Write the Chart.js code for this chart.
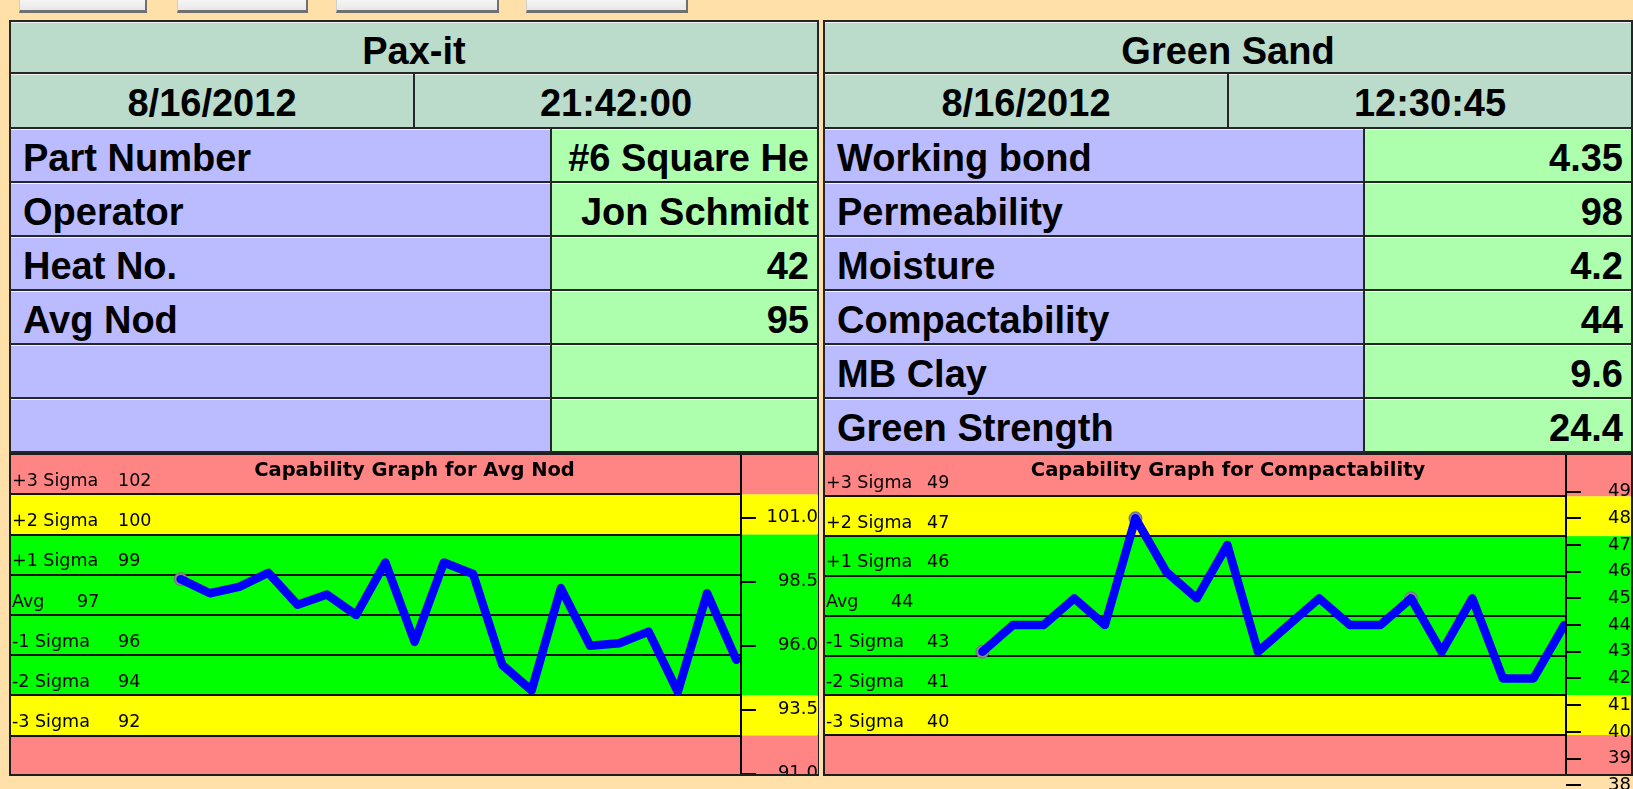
<!DOCTYPE html>
<html>
<head>
<meta charset="utf-8">
<title>Pax-it / Green Sand</title>
<script src="https://cdn.jsdelivr.net/npm/chart.js@4.4.1/dist/chart.umd.min.js"></script>
<style>
  html, body { margin: 0; padding: 0; }
  body { width: 1633px; height: 789px; overflow: hidden; position: relative; background: #ffe0a8; font-family: "Liberation Sans", Arial, sans-serif; }
  .btn { position: absolute; top: -8px; height: 21px; box-sizing: border-box; background: linear-gradient(#fdfdfd, #e8e8e8); border: 1px solid #cfcfcf; border-right: 2px solid #707070; border-bottom: 3px solid #707070; }
  .panel { position: absolute; top: 20px; height: 436px; width: 810px; background: #262626; }
  .cell { position: absolute; box-sizing: border-box; font-weight: bold; font-size: 38px; line-height: 56px; color: #000; white-space: nowrap; overflow: hidden; border-top: 1px solid #f2f2f2; }
  .head { background: #bbdccb; text-align: center; }
  .lbl { background: #bbbbff; padding-left: 12px; }
  .val { background: #adffad; text-align: right; padding-right: 8px; }
  .box { position: absolute; top: 453px; width: 810px; height: 323px; box-sizing: border-box; border: 2px solid #1e1e1e; }
  canvas { position: absolute; }
</style>
</head>
<body>
<div class="btn" style="left:19px;width:128px"></div>
<div class="btn" style="left:177px;width:131px"></div>
<div class="btn" style="left:336px;width:163px"></div>
<div class="btn" style="left:526px;width:162px"></div>

<div class="panel" id="paxPanel" style="left:9px"></div>
<div class="panel" id="sandPanel" style="left:823px"></div>

<div class="box" style="left:9px"></div>
<div class="box" style="left:823px"></div>
<canvas id="chartNod" width="807" height="319" style="left:11px;top:455px"></canvas>
<canvas id="chartComp" width="806" height="334" style="left:825px;top:455px"></canvas>

<script>
// ---- datos de las tablas ----
const paxTitle = "Pax-it";
const paxDate = "8/16/2012";
const paxTime = "21:42:00";
const paxFields = ["Part Number", "Operator", "Heat No.", "Avg Nod", "", ""];
const paxValues = ["#6 Square He", "Jon Schmidt", "42", "95", "", ""];

const sandTitle = "Green Sand";
const sandDate = "8/16/2012";
const sandTime = "12:30:45";
const sandFields = ["Working bond", "Permeability", "Moisture", "Compactability", "MB Clay", "Green Strength"];
const sandValues = ["4.35", "98", "4.2", "44", "9.6", "24.4"];

// ---- graficos de capacidad ----
const sigmaNames = ["+3 Sigma", "+2 Sigma", "+1 Sigma", "Avg", "-1 Sigma", "-2 Sigma", "-3 Sigma"];

const nodTitle = "Capability Graph for Avg Nod";
const nodLimits = [101.91, 100.34, 98.77, 97.2, 95.63, 94.06, 92.49];
const nodLimitLabels = [102, 100, 99, 97, 96, 94, 92];
const nodValues = [98.6, 98.05, 98.3, 98.85, 97.6, 98.0, 97.2, 99.25, 96.15, 99.25,
                   98.8, 95.25, 94.25, 98.25, 96.0, 96.1, 96.55, 94.2, 98.05, 95.45];
const nodFlagged = [0];
const nodTicks = [91, 93.5, 96, 98.5, 101];

const compTitle = "Capability Graph for Compactability";
const compLimits = [48.82, 47.33, 45.84, 44.35, 42.86, 41.37, 39.88];
const compLimitLabels = [49, 47, 46, 44, 43, 41, 40];
const compValues = [43, 44, 44, 45, 44, 48, 46, 45, 47, 43,
                    44, 45, 44, 44, 45, 43, 45, 42, 42, 44];
const compFlagged = [0, 5, 14];
const compTicks = [38, 39, 40, 41, 42, 43, 44, 45, 46, 47, 48, 49];

const RED = "#ff8484";
const YELLOW = "#ffff00";
const GREEN = "#00ff00";

// ---- tablas ----
function addCell(panel, cls, left, top, width, height, text) {
  const d = document.createElement("div");
  d.className = "cell " + cls;
  d.style.left = left + "px";
  d.style.top = top + "px";
  d.style.width = width + "px";
  d.style.height = height + "px";
  d.textContent = text;
  panel.appendChild(d);
}

function buildPanel(id, title, date, time, fields, values, split, labelW) {
  const p = document.getElementById(id);
  const w = 806;
  addCell(p, "head", 2, 2, w, 50, title);
  addCell(p, "head", 2, 54, split, 53, date);
  addCell(p, "head", split + 4, 54, w - split - 2, 53, time);
  fields.forEach((f, i) => {
    const top = 109 + i * 54;
    addCell(p, "lbl", 2, top, labelW, 52, f);
    addCell(p, "val", labelW + 4, top, w - labelW - 2, 52, values[i]);
  });
}

buildPanel("paxPanel", paxTitle, paxDate, paxTime, paxFields, paxValues, 402, 539);
buildPanel("sandPanel", sandTitle, sandDate, sandTime, sandFields, sandValues, 402, 538);

// bandas, lineas sigma, etiquetas y titulo
const capBands = {
  id: "capBands",
  beforeDraw(chart, args, o) {
    const { ctx, chartArea: a, scales: { y } } = chart;
    const w = chart.width;
    const bottom = Math.min(o.boxHeight, chart.height);
    const py = v => y.getPixelForValue(v);
    const L = o.limits;
    const bands = [
      [a.top, py(L[0]), RED],
      [py(L[0]), py(L[1]), YELLOW],
      [py(L[1]), py(L[5]), GREEN],
      [py(L[5]), py(L[6]), YELLOW],
      [py(L[6]), bottom, RED]
    ];
    ctx.save();
    bands.forEach(([t, b, c]) => { ctx.fillStyle = c; ctx.fillRect(0, t, w, b - t); });

    ctx.strokeStyle = "#111";
    ctx.lineWidth = 2;
    L.forEach(v => {
      const yy = Math.round(py(v));
      ctx.beginPath();
      ctx.moveTo(a.left, yy);
      ctx.lineTo(a.right, yy);
      ctx.stroke();
    });

    ctx.fillStyle = "#000";
    ctx.font = '17.5px "DejaVu Sans"';
    ctx.textAlign = "left";
    ctx.textBaseline = "middle";
    L.forEach((v, i) => {
      const yy = py(v) - 13;
      ctx.fillText(sigmaNames[i], a.left + 1, yy);
      ctx.fillText(String(o.labels[i]), a.left + (i === 3 ? 66 : o.valueX), yy);
    });

    ctx.font = 'bold 19.5px "DejaVu Sans"';
    ctx.textAlign = "center";
    ctx.textBaseline = "alphabetic";
    ctx.fillText(o.title, w / 2, 21);
    ctx.restore();
  },
  afterDraw(chart, args, o) {
    const { ctx, chartArea: a } = chart;
    ctx.save();
    ctx.strokeStyle = "#000";
    ctx.lineWidth = 2;
    ctx.beginPath();
    ctx.moveTo(a.right, 0);
    ctx.lineTo(a.right, Math.min(o.boxHeight, chart.height));
    ctx.stroke();
    ctx.restore();
  }
};

function capChart(canvasId, values, flagged, limits, limitLabels, ticks, title, look) {
  const ctx = document.getElementById(canvasId).getContext("2d");
  return new Chart(ctx, {
    type: "line",
    data: {
      datasets: [
        {
          data: values.map((v, i) => ({ x: i + 1, y: v })),
          borderColor: "#0000ff",
          borderWidth: 8.5,
          pointRadius: 0,
          borderJoinStyle: "round",
          borderCapStyle: "round",
          order: 1
        },
        {
          data: flagged.map(i => ({ x: i + 1, y: values[i] })),
          showLine: false,
          pointRadius: 6.5,
          pointBackgroundColor: "#8a8a8a",
          pointBorderColor: "#707080",
          pointBorderWidth: 1,
          order: 2
        }
      ]
    },
    options: {
      responsive: false,
      animation: false,
      devicePixelRatio: 1,
      events: [],
      layout: { autoPadding: false, padding: 0 },
      plugins: {
        legend: { display: false },
        tooltip: { enabled: false },
        capBands: { limits, labels: limitLabels, title, boxHeight: look.boxHeight, valueX: look.valueX }
      },
      scales: {
        x: { type: "linear", display: false, min: look.xMin, max: look.xMax },
        y: {
          position: "right",
          min: look.yMin,
          max: look.yMax,
          afterBuildTicks: s => { s.ticks = ticks.map(v => ({ value: v })); },
          afterFit: s => { s.width = look.axisWidth; s.paddingTop = 0; s.paddingBottom = 0; },
          border: { display: false },
          grid: { drawOnChartArea: false, drawTicks: true, tickLength: 15, color: "#000", lineWidth: 2 },
          ticks: {
            autoSkip: false,
            crossAlign: "far",
            padding: look.tickPad,
            color: "#000",
            font: { family: "DejaVu Sans", size: 18 },
            callback: v => look.decimals ? Number(v).toFixed(look.decimals) : String(v)
          }
        }
      }
    },
    plugins: [capBands]
  });
}

capChart("chartNod", nodValues, nodFlagged, nodLimits, nodLimitLabels, nodTicks, nodTitle,
  { xMin: -4.8, xMax: 20.16, yMin: 90.99, yMax: 103.45, axisWidth: 77, tickPad: 7, decimals: 1, boxHeight: 319, valueX: 107 });
capChart("chartComp", compValues, compFlagged, compLimits, compLimitLabels, compTicks, compTitle,
  { xMin: -4.14, xMax: 20.06, yMin: 37.86, yMax: 50.37, axisWidth: 65, tickPad: 24, decimals: 0, boxHeight: 319, valueX: 102 });
</script>
</body>
</html>
